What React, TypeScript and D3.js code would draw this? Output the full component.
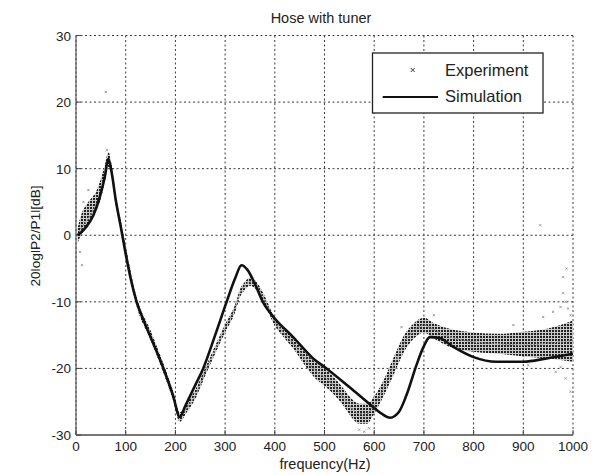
import React from "react";
import * as d3 from "d3";

const xTicks = [0, 100, 200, 300, 400, 500, 600, 700, 800, 900, 1000];
const yTicks = [-30, -20, -10, 0, 10, 20, 30];

const simFreq = [3, 10, 20, 35, 48, 58, 65, 72, 80, 90, 100, 110, 122, 135, 150, 176, 195, 209, 220, 240, 256, 280, 303, 320, 333, 345, 360, 376, 400, 437, 477, 504, 550, 598, 615, 632, 650, 665, 685, 699, 712, 730, 760, 800, 846, 900, 947, 1000];
const simVals = [0, 0.4, 1.2, 3, 5.8, 8.8, 11.5, 9.3, 5.3, 1.3, -2.8, -6.5, -10, -12.6, -15.3, -20, -24, -27.3, -25.6, -22.5, -20, -15, -10, -6.5, -4.5, -5.2, -7.3, -10, -12.5, -15.3, -18.5, -20, -22.8, -25.8, -26.8, -27.4, -26.5, -24, -19.5, -16.8, -15.3, -15.4, -16.8, -18.3, -19, -19, -18.5, -17.8];

const expFreq = [3, 10, 20, 30, 40, 50, 58, 65, 72, 80, 90, 100, 122, 150, 176, 195, 209, 222, 240, 260, 280, 300, 320, 330, 340, 350, 364, 380, 400, 420, 440, 460, 480, 500, 520, 540, 555, 570, 585, 600, 620, 640, 660, 680, 700, 720, 750, 800, 850, 900, 950, 1000];
const expMid = [0, 1, 2, 3.2, 4.6, 6.5, 9, 11.3, 9.5, 5.2, 1.6, -2.3, -10, -15, -20, -24, -27.3, -26, -24, -20.5, -17.2, -14, -11, -8.7, -7.6, -7, -7.7, -9.8, -13, -14.8, -16.5, -18.5, -20.2, -21.3, -22.7, -24.5, -26, -26.8, -26.8, -25.5, -22.8, -19.5, -16.2, -14.3, -13.5, -14.2, -15.2, -16, -16.3, -16.5, -16.2, -15.8];
const expLo = [-1.2, 0, 1, 2.2, 3.6, 5.5, 8, 10.3, 8.7, 4.5, 0.9, -3, -10.7, -15.7, -20.7, -24.7, -28, -26.7, -24.6, -21.1, -17.8, -14.6, -11.6, -9.3, -8.2, -7.6, -8.3, -10.4, -13.6, -15.5, -17.3, -19.5, -21.4, -22.6, -24, -25.8, -27.4, -28.3, -28.3, -26.8, -24, -20.8, -17.5, -15.5, -14.6, -15.5, -16.7, -17.5, -17.8, -18.2, -18.5, -19];
const expHi = [1, 3, 4.5, 5.5, 6.5, 8.5, 10.5, 12.5, 10.5, 6, 2.3, -1.6, -9.3, -14.3, -19.3, -23.3, -26.6, -25.3, -23.2, -19.9, -16.6, -13.4, -10.4, -8.1, -7, -6.4, -7.1, -9.2, -12.4, -14.1, -15.7, -17.5, -19, -20, -21.4, -23.2, -24.6, -25.3, -25.3, -24.2, -21.6, -18.2, -15, -13.2, -12.4, -13.2, -14, -14.6, -14.8, -14.5, -14, -12.8];

const outlierFreq = [60, 62, 25, 15, 8, 12, 940, 960, 975, 985, 990, 995, 980, 987, 980, 934, 965, 985, 995, 1000, 975, 580, 590, 570, 655, 720, 880, 910];
const outlierVals = [21.5, 12.8, 6.8, 5, -2.5, -4.5, -12.3, -11.5, -10.8, -10, -11, -12, -6.3, -5, -8.7, 1.5, -20.5, -21.5, -23.5, -25, -19.8, -29.5, -29, -29.2, -13.8, -12, -13.5, -19.5];

const W = 592, H = 475;
const M = { left: 76, right: 573, top: 35.5, bottom: 435 };
const FONT = "'Liberation Sans', Arial, Helvetica, sans-serif";

export default function App() {
  const x = d3.scaleLinear().domain([0, 1000]).range([M.left, M.right]);
  const y = d3.scaleLinear().domain([-30, 30]).range([M.bottom, M.top]);

  const simLine = d3.line<number>()
    .x((_, i) => x(simFreq[i]))
    .y((v) => y(v))
    .curve(d3.curveMonotoneX)(simVals) || "";

  const expLine = d3.line<number>()
    .x((_, i) => x(expFreq[i]))
    .y((v) => y(v))
    .curve(d3.curveMonotoneX)(expMid) || "";

  const band = d3.area<number>()
    .x((_, i) => x(expFreq[i]))
    .y0((_, i) => y(expLo[i]))
    .y1((_, i) => y(expHi[i]))
    .curve(d3.curveMonotoneX)(expFreq) || "";

  const grid = "#3a3a3a";
  return (
    <svg width={W} height={H} style={{ position: "absolute", left: 0, top: 0, background: "#fff" }}>
      <defs>
        <pattern id="xpat" width="3" height="3" patternUnits="userSpaceOnUse">
          <rect x="0" y="0" width="3" height="3" fill="#c4c4c4" />
          <rect x="0" y="0" width="2" height="2" fill="#0a0a0a" />
        </pattern>
        <clipPath id="plot">
          <rect x={M.left} y={M.top} width={M.right - M.left} height={M.bottom - M.top} />
        </clipPath>
      </defs>
      <rect width={W} height={H} fill="#fff" />
      {xTicks.map((t) => (
        <line key={"gx" + t} x1={x(t)} x2={x(t)} y1={M.top} y2={M.bottom} stroke={grid} strokeWidth={1} strokeDasharray="2,2.5" />
      ))}
      {yTicks.map((t) => (
        <line key={"gy" + t} x1={M.left} x2={M.right} y1={y(t)} y2={y(t)} stroke={grid} strokeWidth={1} strokeDasharray="2,2.5" />
      ))}
      <line x1={M.left} x2={M.left} y1={M.top} y2={M.bottom} stroke="#555" strokeWidth={1.2} />
      <line x1={M.left} x2={M.right} y1={M.bottom} y2={M.bottom} stroke="#777" strokeWidth={1.8} />
      {xTicks.map((t) => (
        <line key={"tx" + t} x1={x(t)} x2={x(t)} y1={M.bottom} y2={M.bottom - 5} stroke="#444" />
      ))}
      {yTicks.map((t) => (
        <line key={"ty" + t} x1={M.left} x2={M.left + 5} y1={y(t)} y2={y(t)} stroke="#444" />
      ))}
      <g clipPath="url(#plot)">
        <path d={band} fill="url(#xpat)" opacity={0.9} />
        <path d={expLine} fill="none" stroke="#8a8a8a" strokeWidth={1.2} strokeDasharray="2,1.5" />
        {outlierFreq.map((f, i) => (
          <g key={"o" + i} transform={`translate(${x(f)},${y(outlierVals[i])})`} stroke="#888" strokeWidth={0.8}>
            <line x1={-1.1} y1={-1.1} x2={1.1} y2={1.1} />
            <line x1={-1.1} y1={1.1} x2={1.1} y2={-1.1} />
          </g>
        ))}
        <path d={simLine} fill="none" stroke="#111" strokeWidth={2.6} strokeLinejoin="round" />
      </g>
      {xTicks.map((t) => (
        <text key={"lx" + t} x={x(t)} y={451} textAnchor="middle" fontFamily={FONT} fontSize={13.5} fill="#222">{t}</text>
      ))}
      {yTicks.map((t) => (
        <text key={"ly" + t} x={71} y={y(t) + 5} textAnchor="end" fontFamily={FONT} fontSize={13.5} fill="#222">{t}</text>
      ))}
      <text x={321} y={23} textAnchor="middle" fontFamily={FONT} fontSize={14.5} fill="#222">Hose with tuner</text>
      <text x={325} y={469} textAnchor="middle" fontFamily={FONT} fontSize={14.5} fill="#222">frequency(Hz)</text>
      <text transform={`translate(40,236) rotate(-90)`} textAnchor="middle" fontFamily={FONT} fontSize={13.7} fill="#222">20loglP2/P1l[dB]</text>
      <rect x={372.5} y={53} width={170.5} height={60} fill="#fff" stroke="#222" strokeWidth={1.3} />
      <g transform="translate(412.7,70)" stroke="#333" strokeWidth={1}>
        <line x1={-2} y1={-2} x2={2} y2={2} />
        <line x1={-2} y1={2} x2={2} y2={-2} />
      </g>
      <text x={445} y={76} fontFamily={FONT} fontSize={16.5} fill="#222">Experiment</text>
      <line x1={382.7} x2={438} y1={97} y2={97} stroke="#111" strokeWidth={2} />
      <text x={445} y={102} fontFamily={FONT} fontSize={16.5} fill="#222">Simulation</text>
    </svg>
  );
}
